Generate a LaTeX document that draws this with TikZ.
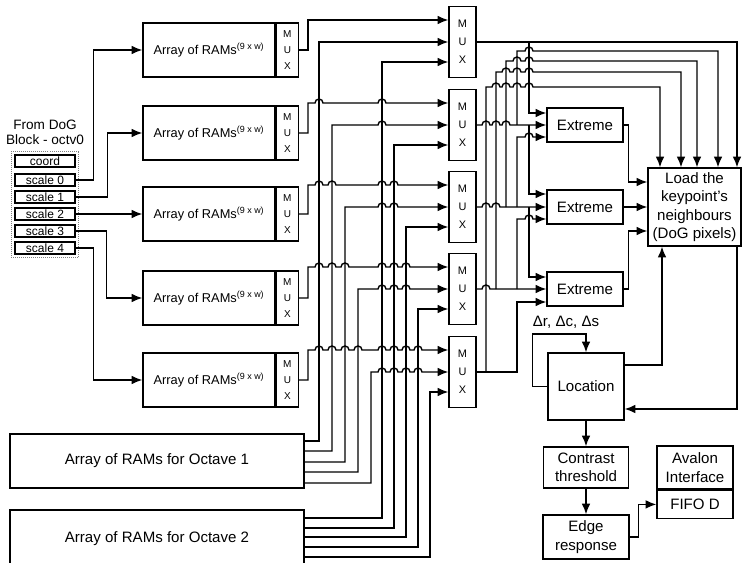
\documentclass[tikz,border=0pt]{standalone}
\usepackage{fontspec}
\setmainfont{Liberation Sans}
\usetikzlibrary{positioning,fit,arrows.meta}
\tikzstyle{box} = [draw, rectangle, inner sep=0pt, align=center, font=\fontsize{11.3}{13.9}\selectfont]
\tikzstyle{ram} = [box, minimum width=99pt, minimum height=40.5pt, font=\fontsize{9.6}{11}\selectfont]
\tikzstyle{submux} = [box, minimum width=16.5pt, minimum height=40.5pt, font=\fontsize{7.5}{12}\selectfont]
\tikzstyle{mux} = [box, minimum width=20.25pt, minimum height=53.25pt, font=\fontsize{8.2}{13.5}\selectfont]
\tikzstyle{scl} = [box, minimum width=45pt, minimum height=9pt, font=\fontsize{9}{9}\selectfont]
\tikzstyle{octave} = [box, minimum width=220.5pt]
\tikzstyle{extr} = [box, minimum width=57pt, minimum height=25.5pt]

\begin{document}
\begin{tikzpicture}[x=0.75pt, y=-0.75pt, line width=1.05pt, >={Latex[length=8pt,width=6.5pt]}]
	\useasboundingbox (0,0) rectangle (742,563);

	\node (coord) [scl] at (45,161) {coord};
	\node (s0) [scl] at (45,180) {scale 0};
	\node (s1) [scl] at (45,197) {scale 1};
	\node (s2) [scl] at (45,214) {scale 2};
	\node (s3) [scl] at (45,231) {scale 3};
	\node (s4) [scl] at (45,248) {scale 4};
	\node (panel) [draw=gray, densely dotted, line width=0.5pt, inner sep=2.2pt, fit=(coord)(s4)] {};
	\node (src) [above=1pt of panel, align=center, font=\fontsize{10.2}{11.5}\selectfont] {From DoG\\Block - octv0};

	\foreach \k/\y in {1/50,2/133,3/214,4/298,5/380}{
		\node (ram\k) [ram] at (209,\y) {Array of RAMs\textsuperscript{(9 x w)}};
		\node (sub\k) [submux, right=0pt of ram\k] {M\\U\\X};
	}
	\foreach \k/\y in {1/42,2/125,3/207,4/289,5/372}
		\node (mux\k) [mux] at (462.5,\y) {M\\U\\X};

	\node (oct1) [octave, minimum height=40.5pt] at (157,461) {Array of RAMs for Octave 1};
	\node (oct2) [octave, minimum height=43.5pt] at (157,539) {Array of RAMs for Octave 2};

	\node (ext1) [extr] at (585,125) {Extreme};
	\node (ext2) [extr] at (585,207) {Extreme};
	\node (ext3) [extr] at (585,289) {Extreme};
	\node (load) [box, minimum width=69.75pt, minimum height=58.5pt] at (694.5,207) {Load the\\keypoint’s\\neighbours\\(DoG pixels)};
	\node (loc) [box, minimum width=57pt, minimum height=50.25pt] at (586,386.5) {Location};
	\node (con) [box, minimum width=63.75pt, minimum height=30.75pt] at (586,467.5) {Contrast\\threshold};
	\node (resp) [box, minimum width=64.5pt, minimum height=33pt] at (586,537) {Edge\\response};
	\node (aval) [box, minimum width=57pt, minimum height=32.25pt] at (695,467.5) {Avalon\\Interface};
	\node (fifo) [box, minimum width=57pt, minimum height=21pt, below=0pt of aval] {FIFO D};
	\node (dlt) [font=\fontsize{11.3}{13.9}\selectfont] at (566,322) {Δr, Δc, Δs};

	\draw [->] (s0.east) -- ++(18,0) |- (ram1.west);
	\draw [->] (s1.east) -- ++(32,0) |- (ram2.west);
	\draw [->] (s2.east) -- (ram3.west);
	\draw [->] (s3.east) -- ++(31,0) |- (ram4.west);
	\draw [->] (s4.east) -- ++(18,0) |- (ram5.west);

	\draw [->] (sub1.east) -| (308,20) -- (mux1.west |- 0,20);
	\foreach \k/\t/\hl in {2/103/{319,382}, 3/185/{319,332,382,394}, 4/267/{319,332,345,382,394,406}, 5/350/{319,332,345,358,382,394,406,418}}
		\draw [->] (sub\k.east) -| (308,\t) foreach \h in \hl {-- (\h-4,\t) arc[start angle=180,end angle=0,radius=3pt]} -- (mux\k.west |- 0,\t);

	\draw [->] (oct1.east |- 0,441) -| (319,42) -- (mux1.west);
	\foreach \k/\y/\x/\t/\hl in {2/451/332/125/{382}, 3/462/345/207/{382,394}, 4/472/358/289/{382,394,406}, 5/483/371/372/{382,394,406,418}}
		\draw [->] (oct1.east |- 0,\y) -| (\x,\t) foreach \h in \hl {-- (\h-4,\t) arc[start angle=180,end angle=0,radius=3pt]} -- (mux\k.west);

	\foreach \k/\y/\x/\t in {1/518/382/62, 2/528/394/145, 3/537/406/227, 4/547/418/309, 5/557/430/392}
		\draw [->] (oct2.east |- 0,\y) -| (\x,\t) -- (mux\k.west |- 0,\t);

	\draw [->] (mux1.east) -| (load.north -| 737,0);
	\draw [->] (529,42) |- (ext1.west |- 0,113);
	\draw [->] (mux2.east) foreach \h in {486,496,506} {-- (\h-4,125) arc[start angle=180,end angle=0,radius=3pt]} -- (ext1.west);
	\draw [->] (529,125) |- (ext2.west |- 0,194);
	\draw [->] (mux3.east) foreach \h in {486,496} {-- (\h-4,207) arc[start angle=180,end angle=0,radius=3pt]} -- (ext2.west);
	\draw [->] (517,207) -- (517,137) -- (525,137) arc[start angle=180,end angle=0,radius=3pt] -- (ext1.west |- 0,137);
	\draw [->] (529,207) |- (ext3.west |- 0,277);
	\draw [->] (mux4.east) -- (482,289) arc[start angle=180,end angle=0,radius=3pt] -- (ext3.west);
	\draw [->] (517,289) -- (517,219) -- (525,219) arc[start angle=180,end angle=0,radius=3pt] -- (ext2.west |- 0,219);
	\draw [->] (mux5.east) -| (517,302) -- (ext3.west |- 0,302);
	\foreach \x/\y/\t/\tx/\hl in {517/125/51/718/{529}, 506/207/61/697/{517,529}, 496/289/72/681/{506,517,529}, 486/372/87/660/{496,506,517,529}}
		\draw [->] (\x,\y) -- (\x,\t) foreach \h in \hl {-- (\h-4,\t) arc[start angle=180,end angle=0,radius=3pt]} -| (load.north -| \tx,0);

	\draw [->] (ext1.east) -- ++(5,0) |- (load.west |- 0,182);
	\draw [->] (ext2.east) -- (load.west);
	\draw [->] (ext3.east) -- ++(5,0) |- (load.west |- 0,231);

	\draw [->] (loc.east |- 0,365) -| (load.south -| 662,0);
	\draw [->] (load.south -| 737,0) |- (loc.east |- 0,409);
	\draw [->] (loc.west) -- ++(-15,0) |- (586,334) -- (loc.north);
	\draw [->] (loc) -- (con);
	\draw [->] (con) -- (resp);
	\draw [->] (resp.east) -- ++(9,0) |- (fifo.west);
\end{tikzpicture}
\end{document}
